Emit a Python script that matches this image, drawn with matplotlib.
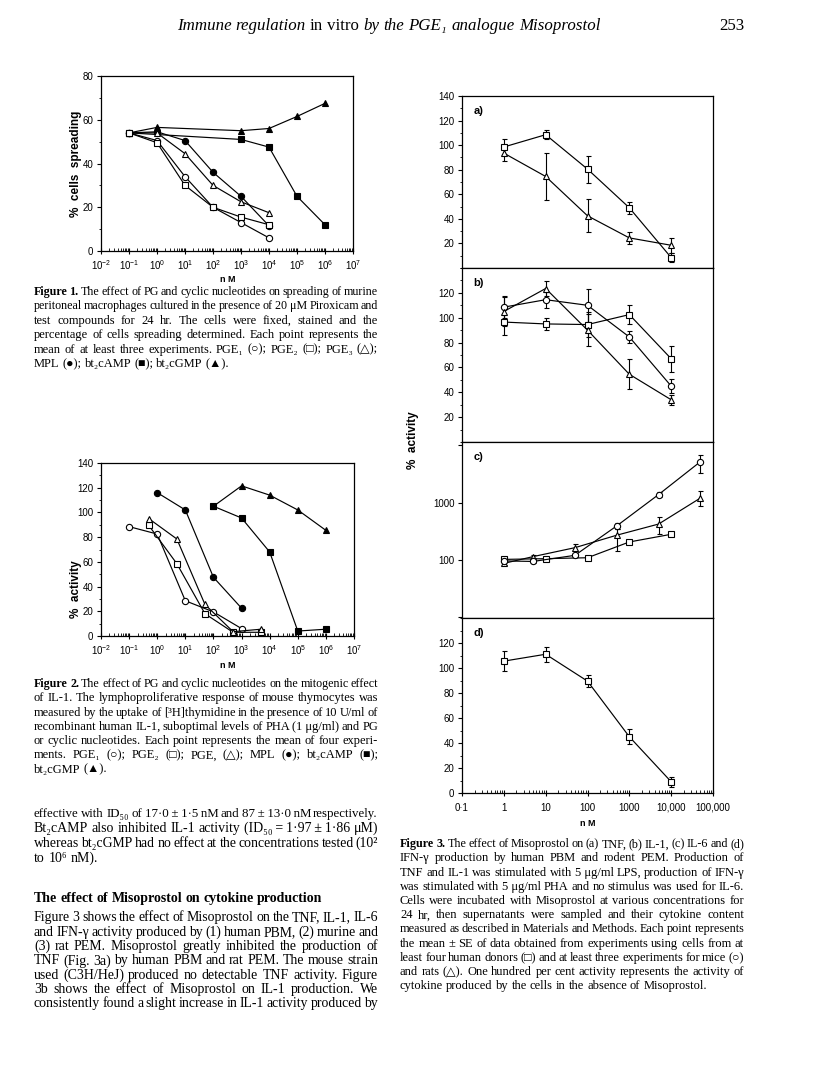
import matplotlib
matplotlib.use('Agg')
import matplotlib.pyplot as plt
from matplotlib.ticker import FixedLocator, LogLocator, MultipleLocator, NullFormatter

DPI = 100
W, H = 816, 1089
SANS = ['Liberation Sans', 'DejaVu Sans']
SERIF = ['Liberation Serif', 'DejaVu Serif', 'DejaVu Sans']

plt.rcParams.update({
    'font.family': SANS,
    'mathtext.fontset': 'custom',
    'mathtext.rm': 'Liberation Sans',
    'mathtext.it': 'Liberation Sans:italic',
    'mathtext.bf': 'Liberation Sans:bold',
    'axes.linewidth': 0.9,
})

# ---- Figure 1: % cells spreading vs nM
f1_pge1_x = [0.1, 1, 10, 100, 1000, 1e4]
f1_pge1_y = [54, 50.5, 34, 20, 13, 6]
f1_pge2_x = [0.1, 1, 10, 100, 1000, 1e4]
f1_pge2_y = [54, 49.5, 30, 20, 15.5, 12]
f1_pge3_x = [0.1, 1, 10, 100, 1000, 1e4]
f1_pge3_y = [54, 54, 44.5, 30, 22.5, 17.5]
f1_mpl_x = [0.1, 1, 10, 100, 1000, 1e4]
f1_mpl_y = [54, 54.5, 50.5, 36, 25, 11.5]
f1_camp_x = [0.1, 1000, 1e4, 1e5, 1e6]
f1_camp_y = [54, 51, 47.5, 25, 12]
f1_cgmp_x = [0.1, 1, 1000, 1e4, 1e5, 1e6]
f1_cgmp_y = [54, 56.5, 55, 56, 61.5, 67.5]

# ---- Figure 2: % activity vs nM
f2_pge1_x = [0.1, 1, 10, 100, 1000]
f2_pge1_y = [88.5, 82.5, 28.5, 19.5, 6]
f2_pge2_x = [0.5, 5, 50, 500, 5000]
f2_pge2_y = [89.5, 58.5, 18, 3, 3]
f2_pge3_x = [0.5, 5, 50, 500, 5000]
f2_pge3_y = [95, 78.5, 25.5, 3.5, 5.5]
f2_mpl_x = [1, 10, 100, 1000]
f2_mpl_y = [116, 102, 47.5, 22.5]
f2_camp_x = [100, 1000, 1e4, 1e5, 1e6]
f2_camp_y = [105, 95.5, 68, 4, 5.5]
f2_cgmp_x = [100, 1000, 1e4, 1e5, 1e6]
f2_cgmp_y = [105, 121.5, 114, 102, 85.5]

# ---- Figure 3: Misoprostol, % activity (mean, SE)
doses = [1, 10, 100, 1000, 1e4]
tnf_human = [98.5, 108.5, 80.5, 49, 8.5]
tnf_human_se = [6.5, 3.5, 11, 5, 3.5]
tnf_rat = [93.5, 74.5, 42.5, 24.5, 18.5]
tnf_rat_se = [6, 19.5, 13.5, 5, 6]

il1_human = [96.5, 95, 94.5, 102.5, 67]
il1_human_se = [10.5, 5, 10, 7.5, 10.5]
il1_mouse = [108.5, 114.5, 110, 84.5, 45]
il1_mouse_se = [9, 6.5, 13.5, 5, 5.5]
il1_rat = [105, 123.5, 90, 54.5, 34]
il1_rat_se = [12, 6, 13, 12, 4]

il6_human_x = [1, 10, 100, 1000, 1e4]
il6_human = [101, 104, 108, 204, 278]
il6_human_lo = [6, 6, 6, 12, 20]
il6_human_hi = [6, 6, 6, 12, 20]
il6_mouse_x = [1, 5, 50, 500, 5000, 50000]
il6_mouse = [95, 93, 119, 390, 1380, 5200]
il6_mouse_lo = [5, 5, 8, 40, 150, 1900]
il6_mouse_hi = [5, 5, 8, 40, 170, 1600]
il6_rat_x = [1, 5, 50, 500, 5000, 50000]
il6_rat = [86, 113, 162, 268, 420, 1200]
il6_rat_lo = [5, 8, 20, 125, 140, 320]
il6_rat_hi = [5, 8, 25, 75, 130, 400]

ifn_human = [105.5, 111, 89.5, 45, 9]
ifn_human_se = [8, 6, 5, 6, 4]

TICK_FS = 7

fig = plt.figure(figsize=(W / DPI, H / DPI), dpi=DPI)
fig.patch.set_facecolor('white')


def px_axes(x0, y0, x1, y1):
    return fig.add_axes([x0 / W, 1 - y1 / H, (x1 - x0) / W, (y1 - y0) / H])


def series(ax, x, y, marker, filled, yerr=None):
    kw = dict(color='k', marker=marker, ms=4.5, mec='k', mew=0.8,
              mfc='k' if filled else 'white', lw=0.85)
    if yerr is None:
        ax.plot(x, y, **kw)
    else:
        ax.errorbar(x, y, yerr=yerr, capsize=1.8, elinewidth=0.8, capthick=0.8, **kw)


def lin_y(ax, top, ticks):
    ax.set_ylim(0, top)
    ax.yaxis.set_major_locator(FixedLocator(ticks))
    ax.yaxis.set_minor_locator(MultipleLocator(10))
    ax.tick_params(axis='y', which='major', direction='out', length=3, width=0.8,
                   labelsize=TICK_FS, pad=2.5)
    ax.tick_params(axis='y', which='minor', direction='out', length=1.6, width=0.6)


def decade_x(ax, lo, hi, labels):
    ax.set_xscale('log')
    ax.set_xlim(10.0 ** lo, 10.0 ** hi)
    ax.xaxis.set_major_locator(FixedLocator([10.0 ** k for k in range(lo, hi + 1)]))
    ax.set_xticklabels(labels)
    ax.xaxis.set_minor_locator(LogLocator(base=10, subs=range(2, 10), numticks=30))
    ax.xaxis.set_minor_formatter(NullFormatter())
    ax.tick_params(axis='x', which='major', direction='inout', length=4, width=0.8,
                   labelsize=TICK_FS, pad=3)
    ax.tick_params(axis='x', which='minor', direction='in', length=2, width=0.6)


pow_labels = [r'$\mathregular{10^{%d}}$' % k for k in range(-2, 8)]

# Figure 1
ax1 = px_axes(101, 76, 353, 251)
decade_x(ax1, -2, 7, pow_labels)
lin_y(ax1, 80, range(0, 81, 20))
series(ax1, f1_cgmp_x, f1_cgmp_y, '^', True)
series(ax1, f1_camp_x, f1_camp_y, 's', True)
series(ax1, f1_mpl_x, f1_mpl_y, 'o', True)
series(ax1, f1_pge3_x, f1_pge3_y, '^', False)
series(ax1, f1_pge1_x, f1_pge1_y, 'o', False)
series(ax1, f1_pge2_x, f1_pge2_y, 's', False)

# Figure 2
ax2 = px_axes(101, 463, 354, 636)
decade_x(ax2, -2, 7, pow_labels)
lin_y(ax2, 140, range(0, 141, 20))
series(ax2, f2_pge1_x, f2_pge1_y, 'o', False)
series(ax2, f2_pge2_x, f2_pge2_y, 's', False)
series(ax2, f2_pge3_x, f2_pge3_y, '^', False)
series(ax2, f2_mpl_x, f2_mpl_y, 'o', True)
series(ax2, f2_camp_x, f2_camp_y, 's', True)
series(ax2, f2_cgmp_x, f2_cgmp_y, '^', True)

# Figure 3 panels
rows = [(96, 268), (268, 442), (442, 618), (618, 793)]
axs = [px_axes(462, a, 713, b) for a, b in rows]
for ax, letter in zip(axs, 'abcd'):
    ax.set_xscale('log')
    ax.set_xlim(0.1, 1e5)
    ax.text(0.045, 0.915, letter + ')', transform=ax.transAxes, fontsize=8,
            fontweight='bold', va='center', ha='left')
for ax in axs[:3]:
    ax.tick_params(axis='x', which='both', bottom=False, top=False, labelbottom=False)

fa, fb, fc, fd = axs
lin_y(fa, 140, range(20, 141, 20))
series(fa, doses, tnf_human, 's', False, tnf_human_se)
series(fa, doses, tnf_rat, '^', False, tnf_rat_se)

lin_y(fb, 140, range(20, 121, 20))
series(fb, doses, il1_human, 's', False, il1_human_se)
series(fb, doses, il1_mouse, 'o', False, il1_mouse_se)
series(fb, doses, il1_rat, '^', False, il1_rat_se)

fc.set_yscale('log')
fc.set_ylim(9.5, 11500)
fc.yaxis.set_major_locator(FixedLocator([10, 100, 1000, 10000]))
fc.set_yticklabels(['', '100', '1000', ''])
fc.yaxis.set_minor_locator(FixedLocator([]))
fc.tick_params(axis='y', which='major', direction='out', length=3, width=0.8,
               labelsize=TICK_FS, pad=2.5)
series(fc, il6_human_x, il6_human, 's', False, [il6_human_lo, il6_human_hi])
series(fc, il6_rat_x, il6_rat, '^', False, [il6_rat_lo, il6_rat_hi])
series(fc, il6_mouse_x, il6_mouse, 'o', False, [il6_mouse_lo, il6_mouse_hi])

lin_y(fd, 140, range(0, 121, 20))
decade_x(fd, -1, 5, ['0\u00b71', '1', '10', '100', '1000', '10,000', '100,000'])
fd.tick_params(axis='x', which='major', pad=5)
series(fd, doses, ifn_human, 's', False, ifn_human_se)

# ---- page text
tax = fig.add_axes([0, 0, 1, 1])
tax.set_xlim(0, W)
tax.set_ylim(H, 0)
tax.axis('off')
renderer = fig.canvas.get_renderer()

lab = dict(family=SANS, fontweight='bold', ha='center', va='center')
tax.text(76, 164, '%  cells  spreading', rotation=90, fontsize=8.5, **lab)
tax.text(228, 280, 'n M', fontsize=6.5, **lab)
tax.text(76, 589, '%  activity', rotation=90, fontsize=8.5, **lab)
tax.text(228, 666, 'n M', fontsize=6.5, **lab)
tax.text(413, 440, '%  activity', rotation=90, fontsize=8.5, **lab)
tax.text(588, 823, 'n M', fontsize=6.5, **lab)

BASE = 9.0
TS = '\u2009'  # thin space, kept inside a word


def parse(line, bold=False):
    toks = []
    for w in line.split(' '):
        wt, st = ('bold' if bold else 'normal'), 'normal'
        if w.startswith('§'):
            wt, w = 'bold', w[1:]
        elif w.startswith('~'):
            st, w = 'italic', w[1:]
        toks.append((w, wt, st))
    return toks


def measure(s, size, wt, st):
    t = tax.text(0, 0, s, fontsize=size, fontweight=wt, fontstyle=st, family=SERIF)
    w = t.get_window_extent(renderer).width
    t.remove()
    return w


def widths(lines, bold=False):
    toks = [parse(l, bold) for l in lines]
    return toks, [[measure(t, BASE, wt, st) for t, wt, st in tk] for tk in toks]


def fit_size(blocks, width):
    # median fit ratio over all justified lines
    sp = 0.25 * BASE * DPI / 72
    rs = []
    for lines, nj in blocks:
        _, wid = widths(lines)
        for w in wid[:nj]:
            rs.append(width / (sum(w) + sp * (len(w) - 1)))
    rs.sort()
    return BASE * rs[len(rs) // 2]


def text_block(lines, x0, x1, y0, dy, size, nj=None, bold=False):
    toks, wid = widths(lines, bold)
    if nj is None:
        nj = len(lines) - 1
    for i, (tk, w0) in enumerate(zip(toks, wid)):
        fs = size
        em0 = BASE * DPI / 72
        need = sum(w0) + 0.18 * em0 * (len(w0) - 1)
        if i < nj and need * size / BASE > (x1 - x0):
            fs = BASE * (x1 - x0) / need
        k = fs / BASE
        em = fs * DPI / 72
        w = [v * k for v in w0]
        if i < nj and len(w) > 1:
            gap = (x1 - x0 - sum(w)) / (len(w) - 1)
        else:
            gap = 0.25 * em
        x = x0
        yb = y0 + i * dy + 0.32 * size * DPI / 72
        for (t, wt, st), v in zip(tk, w):
            tax.text(x, yb, t, fontsize=fs, fontweight=wt, fontstyle=st,
                     family=SERIF, va='baseline', ha='left')
            x += v + gap


head = ['~Immune ~regulation in vitro ~by ~the ~PGE\u2081 ~analogue ~Misoprostol']
cap1 = [
    '§Figure §1. The effect of PG and cyclic nucleotides on spreading of murine',
    'peritoneal macrophages cultured in the presence of 20\u00a0\u03bcM Piroxicam and',
    'test compounds for 24 hr. The cells were fixed, stained and the',
    'percentage of cells spreading determined. Each point represents the',
    'mean of at least three experiments. PGE\u2081 (\u25cb); PGE\u2082 (\u25a1); PGE\u2083 (\u25b3);',
    'MPL (\u25cf); bt\u2082cAMP (\u25a0); bt\u2082cGMP (\u25b2).',
]
cap2 = [
    '§Figure §2. The effect of PG and cyclic nucleotides on the mitogenic effect',
    'of IL-1. The lymphoproliferative response of mouse thymocytes was',
    'measured by the uptake of [\u00b3H]thymidine in the presence of 10 U/ml of',
    'recombinant human IL-1, suboptimal levels of PHA (1\u00a0\u03bcg/ml) and PG',
    'or cyclic nucleotides. Each point represents the mean of four experi-',
    'ments. PGE\u2081 (\u25cb); PGE\u2082 (\u25a1); PGE, (\u25b3); MPL (\u25cf); bt\u2082cAMP (\u25a0);',
    'bt\u2082cGMP (\u25b2).',
]
body1 = [
    'effective with ID\u2085\u2080 of 17\u00b70' + TS + '\u00b1' + TS + '1\u00b75' + TS
    + 'nM and 87' + TS + '\u00b1' + TS + '13\u00b70' + TS + 'nM respectively.',
    'Bt\u2082cAMP also inhibited IL-1 activity (ID\u2085\u2080' + TS + '=' + TS
    + '1\u00b797' + TS + '\u00b1' + TS + '1\u00b786 \u03bcM)',
    'whereas bt\u2082cGMP had no effect at the concentrations tested (10\u00b2',
    'to 10\u2076 nM).',
]
body2 = [
    'Figure 3 shows the effect of Misoprostol on the TNF, IL-1, IL-6',
    'and IFN-\u03b3 activity produced by (1) human PBM, (2) murine and',
    '(3) rat PEM. Misoprostol greatly inhibited the production of',
    'TNF (Fig. 3a) by human PBM and rat PEM. The mouse strain',
    'used (C3H/HeJ) produced no detectable TNF activity. Figure',
    '3b shows the effect of Misoprostol on IL-1 production. We',
    'consistently found a slight increase in IL-1 activity produced by',
]
cap3 = [
    '§Figure §3. The effect of Misoprostol on (a) TNF, (b) IL-1, (c) IL-6 and (d)',
    'IFN-\u03b3 production by human PBM and rodent PEM. Production of',
    'TNF and IL-1 was stimulated with 5\u00a0\u03bcg/ml LPS, production of IFN-\u03b3',
    'was stimulated with 5\u00a0\u03bcg/ml PHA and no stimulus was used for IL-6.',
    'Cells were incubated with Misoprostol at various concentrations for',
    '24 hr, then supernatants were sampled and their cytokine content',
    'measured as described in Materials and Methods. Each point represents',
    'the mean \u00b1 SE of data obtained from experiments using cells from at',
    'least four human donors (\u25a1) and at least three experiments for mice (\u25cb)',
    'and rats (\u25b3). One hundred per cent activity represents the activity of',
    'cytokine produced by the cells in the absence of Misoprostol.',
]

fs_cap = fit_size([(cap1, 5), (cap2, 6), (cap3, 10)], 344)
fs_body = fit_size([(body1, 3), (body2, 7)], 344)
fs_head = fit_size([(head, 1)], 423)

text_block(head, 177, 600, 25, 0, fs_head, nj=1)
tax.text(744, 25 + 0.32 * fs_head * DPI / 72, '253', fontsize=fs_head, family=SERIF,
         ha='right', va='baseline')

text_block(cap1, 34, 378, 291, 14.4, fs_cap)
text_block(cap2, 34, 378, 683, 14.3, fs_cap)
text_block(body1, 34, 378, 813, 14.8, fs_body)
text_block(['The effect of Misoprostol on cytokine production'], 34, 378, 898, 0,
           fs_body, nj=0, bold=True)
text_block(body2, 34, 378, 917, 14.3, fs_body, nj=7)
text_block(cap3, 400, 744, 843.3, 14.2, fs_cap)

fig.savefig('out.png', dpi=DPI, facecolor='white')
